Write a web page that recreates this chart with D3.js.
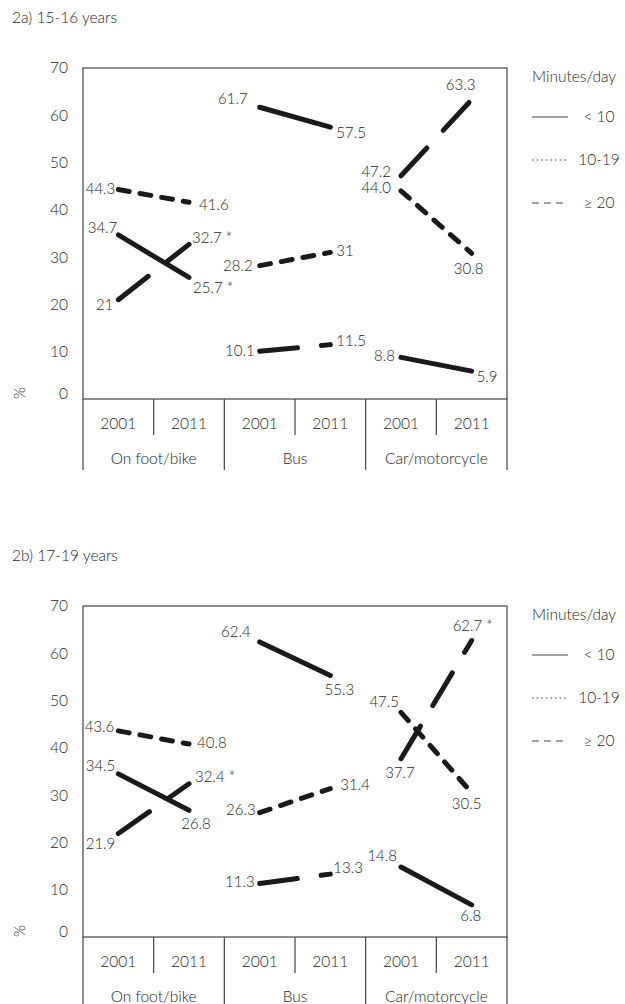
<!DOCTYPE html>
<html>
<head>
<meta charset="utf-8">
<script src="https://cdn.jsdelivr.net/npm/d3@7"></script>
<style>
  html, body { margin: 0; padding: 0; background: #fff; }
  svg { display: block; }
  text { font-family: Lato, "Open Sans", sans-serif; font-weight: 300; fill: #1e1e1e; }
</style>
</head>
<body>
<div id="chart"></div>
<script>
// categories and ticks
const groups = ["On foot/bike", "Bus", "Car/motorcycle"];
const years = ["2001", "2011"];
const seriesNames = ["< 10", "10-19", "≥ 20"];
const yTicks = [0, 10, 20, 30, 40, 50, 60, 70];
const panelTitles = ["2a) 15-16 years", "2b) 17-19 years"];

// 2a) 15-16 years: order = foot 2001, foot 2011, bus 2001, bus 2011, car 2001, car 2011
const a_under10 = [34.7, 25.7, 61.7, 57.5, 8.8, 5.9];
const a_10to19 = [21, 32.7, 10.1, 11.5, 47.2, 63.3];
const a_20plus = [44.3, 41.6, 28.2, 31, 44.0, 30.8];
const a_under10Text = ["34.7", "25.7 *", "61.7", "57.5", "8.8", "5.9"];
const a_10to19Text = ["21", "32.7 *", "10.1", "11.5", "47.2", "63.3"];
const a_20plusText = ["44.3", "41.6", "28.2", "31", "44.0", "30.8"];

// 2b) 17-19 years
const b_under10 = [34.5, 26.8, 62.4, 55.3, 14.8, 6.8];
const b_10to19 = [21.9, 32.4, 11.3, 13.3, 37.7, 62.7];
const b_20plus = [43.6, 40.8, 26.3, 31.4, 47.5, 30.5];
const b_under10Text = ["34.5", "26.8", "62.4", "55.3", "14.8", "6.8"];
const b_10to19Text = ["21.9", "32.4 *", "11.3", "13.3", "37.7", "62.7 *"];
const b_20plusText = ["43.6", "40.8", "26.3", "31.4", "47.5", "30.5"];

// label placement, [anchor, dx, dy] from the point (layout only)
const a_place = [
  [["end", -1, -7], ["start", 4, 10], ["end", -12, -8], ["start", 6, 6], ["end", -6, -2], ["start", 5, 6]],
  [["end", -5, 5], ["start", 3, -7], ["end", -5, 0], ["start", 6, -4], ["end", -10, -4], ["middle", -11, -15]],
  [["end", -3, -1], ["start", 10, 2], ["end", -7, 0], ["start", 6, -2], ["end", -10, -3], ["middle", -3, 15]]
];
const b_place = [
  [["end", -3, -8], ["middle", 7, 13], ["end", -9, -10], ["middle", 9, 14], ["end", -4, -11], ["middle", -1, 11]],
  [["end", -3, 10], ["start", 6, -7], ["end", -5, -2], ["start", 3, -6], ["middle", -1, 14], ["start", -19, -15]],
  [["end", -4, -4], ["start", 8, -1], ["end", -4, -3], ["start", 10, -4], ["end", -2, -11], ["middle", -5, 11]]
];

const panels = [
  { title: panelTitles[0], values: [a_under10, a_10to19, a_20plus], texts: [a_under10Text, a_10to19Text, a_20plusText], place: a_place, top: 0 },
  { title: panelTitles[1], values: [b_under10, b_10to19, b_20plus], texts: [b_under10Text, b_10to19Text, b_20plusText], place: b_place, top: 538 }
];

const W = 625, H = 1004;
const margin = { left: 83, right: 118, top: 68 };
const plotW = W - margin.left - margin.right;
const plotBottom = 399;
const fs = "15.5px";

const dashData = [null, "38,24", "11,11"];
const dashLegend = [null, "1.6,3", "7,5"];

const svg = d3.select("#chart").append("svg")
  .attr("width", W)
  .attr("height", H);

const cols = [];
groups.forEach(g => years.forEach(yr => cols.push(g + "|" + yr)));

const x = d3.scaleBand().domain(cols).range([margin.left, margin.left + plotW]).padding(0);
const xg = d3.scaleBand().domain(groups).range([margin.left, margin.left + plotW]).padding(0);
const y = d3.scaleLinear().domain([0, 70]).range([plotBottom, margin.top]);
const cx = k => x(k) + x.bandwidth() / 2;

panels.forEach(p => {
  const g = svg.append("g").attr("transform", `translate(0,${p.top})`);

  g.append("text")
    .attr("x", 12).attr("y", 18).attr("dy", "0.35em")
    .style("font-size", fs)
    .text(p.title);

  // frame
  g.append("rect")
    .attr("x", margin.left).attr("y", margin.top)
    .attr("width", plotW).attr("height", plotBottom - margin.top)
    .attr("fill", "none").attr("stroke", "#444").attr("stroke-width", 1.2);

  // y axis
  const ya = g.append("g")
    .attr("transform", `translate(${margin.left},0)`)
    .call(d3.axisLeft(y).tickValues(yTicks).tickSize(0).tickPadding(15));
  ya.select(".domain").remove();
  ya.selectAll("text")
    .style("font-size", fs)
    .style("font-family", "Lato, sans-serif")
    .style("font-weight", 300)
    .attr("fill", "#1e1e1e")
    .attr("dy", d => d === 0 ? "-0.05em" : "0.32em");

  g.append("text")
    .attr("transform", `translate(20,${plotBottom - 6}) rotate(-90)`)
    .attr("text-anchor", "middle").attr("dy", "0.35em")
    .style("font-size", fs)
    .text("%");

  // category axis below
  const cat = g.append("g");
  cols.forEach((k, i) => {
    if (i % 2 === 1) {
      cat.append("line")
        .attr("x1", x(k)).attr("x2", x(k))
        .attr("y1", plotBottom).attr("y2", plotBottom + 36)
        .attr("stroke", "#444").attr("stroke-width", 1.2);
    }
    cat.append("text")
      .attr("x", cx(k)).attr("y", plotBottom + 25).attr("dy", "0.35em")
      .attr("text-anchor", "middle")
      .style("font-size", fs)
      .text(k.split("|")[1]);
  });
  groups.concat([null]).forEach(gr => {
    const gx = gr ? xg(gr) : margin.left + plotW;
    cat.append("line")
      .attr("x1", gx).attr("x2", gx)
      .attr("y1", plotBottom).attr("y2", plotBottom + 71)
      .attr("stroke", "#444").attr("stroke-width", 1.2);
    if (gr) {
      cat.append("text")
        .attr("x", xg(gr) + xg.bandwidth() / 2).attr("y", plotBottom + 60).attr("dy", "0.35em")
        .attr("text-anchor", "middle")
        .style("font-size", fs)
        .text(gr);
    }
  });

  // data lines
  const line = d3.line().x(d => d.x).y(d => d.y);
  p.values.forEach((vals, s) => {
    groups.forEach((gr, gi) => {
      const pts = years.map((yr, yi) => ({ x: cx(gr + "|" + yr), y: y(vals[gi * 2 + yi]) }));
      g.append("path")
        .attr("d", line(pts))
        .attr("fill", "none")
        .attr("stroke", "#1a1a1a")
        .attr("stroke-width", 5)
        .attr("stroke-linecap", "round")
        .attr("stroke-dasharray", dashData[s]);
    });
    vals.forEach((v, i) => {
      const [anchor, dx, dy] = p.place[s][i];
      g.append("text")
        .attr("x", cx(cols[i]) + dx)
        .attr("y", y(v) + dy)
        .attr("dy", "0.35em")
        .attr("text-anchor", anchor)
        .style("font-size", "15px")
        .text(p.texts[s][i]);
    });
  });

  // legend
  const lg = g.append("g");
  lg.append("text")
    .attr("x", 532).attr("y", 77).attr("dy", "0.35em")
    .style("font-size", fs)
    .text("Minutes/day");
  seriesNames.forEach((name, i) => {
    const ly = 117 + i * 43;
    lg.append("line")
      .attr("x1", 532).attr("x2", 568)
      .attr("y1", ly).attr("y2", ly)
      .attr("stroke", "#444").attr("stroke-width", 1.2)
      .attr("stroke-dasharray", dashLegend[i]);
    lg.append("text")
      .attr("x", 599).attr("y", ly).attr("dy", "0.35em")
      .attr("text-anchor", "middle")
      .style("font-size", fs)
      .text(name);
  });
});
</script>
</body>
</html>
